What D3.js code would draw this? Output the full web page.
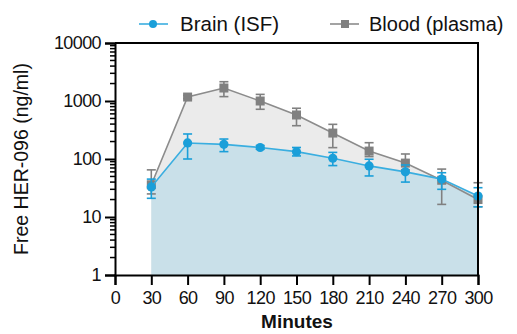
<!DOCTYPE html>
<html>
<head>
<meta charset="utf-8">
<script src="https://cdn.jsdelivr.net/npm/d3@7"></script>
<style>
  body { margin: 0; background: #fff; }
  svg text { font-family: "Liberation Sans", Arial, sans-serif; }
</style>
</head>
<body>
<svg id="chart" width="517" height="334"></svg>
<script>
// minutes after dosing
var minutes = [30, 60, 90, 120, 150, 180, 210, 240, 270, 300];
var xTicks = [0, 30, 60, 90, 120, 150, 180, 210, 240, 270, 300];
var yTicks = [1, 10, 100, 1000, 10000];

// Brain (ISF), mean and error bar bounds
var brainMean = [33, 189, 179, 158, 134, 103, 76, 60, 45, 23];
var brainHigh = [45, 270, 221, 170, 158, 130, 99, 79, 58, 32];
var brainLow = [21, 100, 134, 147, 113, 77, 51, 40, 30, 15];

// Blood (plasma)
var bloodMean = [36, 1170, 1675, 1000, 574, 280, 137, 85, 43, 20];
var bloodHigh = [65, 1250, 2150, 1300, 750, 396, 191, 122, 67, 39];
var bloodLow = [25, 1100, 1190, 720, 375, 157, 110, 65, 16.5, 15];

var svg = d3.select("#chart"),
  margin = { top: 43, right: 39, bottom: 59, left: 115 },
  width = +svg.attr("width") - margin.left - margin.right,
  height = +svg.attr("height") - margin.top - margin.bottom;

var x = d3.scaleLinear().domain([0, 300]).range([0, width]);
var y = d3.scaleLog().domain([1, 10000]).range([height, 0]);

var g = svg.append("g").attr("transform", "translate(" + margin.left + "," + margin.top + ")");

var blue = "#1a9fd9", blueLine = "#3aaee0", blueFill = "#c9e0e9";
var grey = "#808080", greyLine = "#8c8c8c", greyFill = "#ebebeb";

function rows(mean, hi, lo) {
  return minutes.map(function (m, i) { return { m: m, v: mean[i], hi: hi[i], lo: lo[i] }; });
}
var blood = rows(bloodMean, bloodHigh, bloodLow);
var brain = rows(brainMean, brainHigh, brainLow);

var area = d3.area().x(d => x(d.m)).y0(height).y1(d => y(d.v));
var line = d3.line().x(d => x(d.m)).y(d => y(d.v));

g.append("path").datum(blood).attr("d", area).attr("fill", greyFill);
g.append("path").datum(brain).attr("d", area).attr("fill", blueFill);

function series(data, col, lineCol, square) {
  g.append("path").datum(data).attr("d", line)
    .attr("fill", "none").attr("stroke", lineCol).attr("stroke-width", 1.6);
  var eb = g.append("g").attr("stroke", col).attr("stroke-width", 1.6);
  eb.selectAll(".v").data(data).enter().append("line")
    .attr("x1", d => x(d.m)).attr("x2", d => x(d.m))
    .attr("y1", d => y(d.hi)).attr("y2", d => y(d.lo));
  ["hi", "lo"].forEach(function (k) {
    eb.selectAll(".c" + k).data(data).enter().append("line")
      .attr("x1", d => x(d.m) - 4.5).attr("x2", d => x(d.m) + 4.5)
      .attr("y1", d => y(d[k])).attr("y2", d => y(d[k]));
  });
  if (square) {
    g.selectAll(".sq").data(data).enter().append("rect")
      .attr("x", d => x(d.m) - 4.5).attr("y", d => y(d.v) - 4.5)
      .attr("width", 9).attr("height", 9).attr("fill", col);
  } else {
    g.selectAll(".dot").data(data).enter().append("circle")
      .attr("cx", d => x(d.m)).attr("cy", d => y(d.v)).attr("r", 4.6).attr("fill", col);
  }
}
series(blood, grey, greyLine, true);
series(brain, blue, blueLine, false);

// frame
g.append("path")
  .attr("d", "M0,0H" + width + "V" + height)
  .attr("fill", "none").attr("stroke", "#000").attr("stroke-width", 2);

// y axis with log minor ticks
var yAxis = g.append("g").call(d3.axisLeft(y).tickValues(yTicks).tickFormat(d3.format("d")).tickSize(10).tickPadding(4));
var minor = [];
for (var e = 0; e < 4; e++) for (var k = 2; k <= 9; k++) minor.push(k * Math.pow(10, e));
yAxis.selectAll(".minor").data(minor).enter().append("line")
  .attr("x1", -5).attr("x2", 0).attr("y1", d => y(d)).attr("y2", d => y(d))
  .attr("stroke", "#000").attr("stroke-width", 1.5);

var xAxis = g.append("g").attr("transform", "translate(0," + height + ")")
  .call(d3.axisBottom(x).tickValues(xTicks).tickSize(10).tickPadding(6));

[xAxis, yAxis].forEach(function (a) {
  a.select(".domain").attr("stroke-width", 2);
  a.selectAll(".tick line").attr("stroke-width", 2);
  a.selectAll("text").attr("font-size", 18).attr("fill", "#111").style("font-family", "Liberation Sans, Arial, sans-serif");
});
xAxis.selectAll("text").attr("letter-spacing", -0.6);
yAxis.selectAll("text").attr("letter-spacing", -0.6);

svg.append("text")
  .attr("x", 297).attr("y", 328).attr("text-anchor", "middle")
  .attr("font-size", 19).attr("font-weight", "bold").attr("fill", "#111")
  .text("Minutes");

svg.append("text")
  .attr("transform", "translate(28," + (margin.top + height / 2) + ") rotate(-90)")
  .attr("text-anchor", "middle").attr("font-size", 19.5).attr("fill", "#111")
  .text("Free HER-096 (ng/ml)");

// legend
var lg = svg.append("g").attr("transform", "translate(0,24)");
lg.append("line").attr("x1", 139).attr("x2", 168).attr("stroke", blueLine).attr("stroke-width", 1.6);
lg.append("circle").attr("cx", 153).attr("r", 4).attr("fill", blue);
lg.append("text").attr("x", 180).attr("y", 7).attr("font-size", 20.5).attr("fill", "#111").text("Brain (ISF)");
lg.append("line").attr("x1", 330).attr("x2", 359).attr("stroke", greyLine).attr("stroke-width", 1.6);
lg.append("rect").attr("x", 341).attr("y", -4).attr("width", 8).attr("height", 8).attr("fill", grey);
lg.append("text").attr("x", 369).attr("y", 7).attr("font-size", 20).attr("fill", "#111").text("Blood (plasma)");
</script>
</body>
</html>
